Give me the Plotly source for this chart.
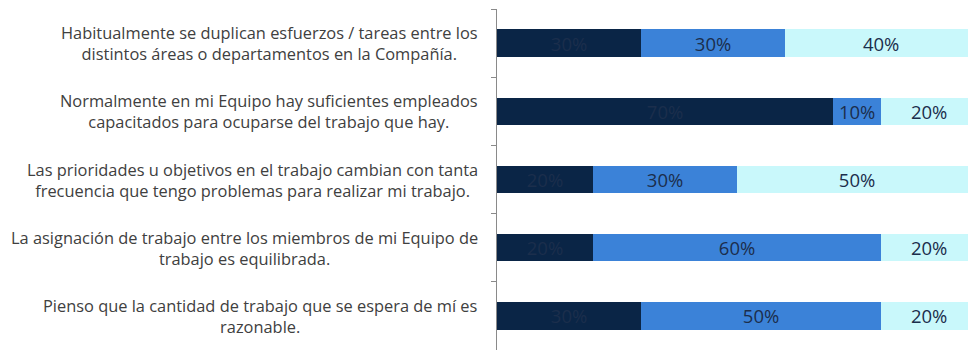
import plotly.graph_objects as go

# Survey statements (top to bottom)
statements = [
    "Habitualmente se duplican esfuerzos / tareas entre los<br>distintos áreas o departamentos en la Compañía.",
    "Normalmente en mi Equipo hay suficientes empleados<br>capacitados para ocuparse del trabajo que hay.",
    "Las prioridades u objetivos en el trabajo cambian con tanta<br>frecuencia que tengo problemas para realizar mi trabajo.",
    "La asignación de trabajo entre los miembros de mi Equipo de<br>trabajo es equilibrada.",
    "Pienso que la cantidad de trabajo que se espera de mí es<br>razonable.",
]
categories = ["q1", "q2", "q3", "q4", "q5"]

# Response shares (%) per statement
share_low = [30, 70, 20, 20, 30]
share_mid = [30, 10, 30, 60, 50]
share_high = [40, 20, 50, 20, 20]

colors = ["#0a2546", "#3b82d8", "#c9f8fb"]
text_color = "#1b2e4c"
font_family = "Open Sans, Lato, sans-serif"

fig = go.Figure()
for vals, col in zip([share_low, share_mid, share_high], colors):
    fig.add_trace(go.Bar(
        y=categories, x=vals, orientation="h",
        marker=dict(color=col, line=dict(width=0)),
        width=0.4,
        text=[f"{v}%" for v in vals],
        textposition="inside", insidetextanchor="middle", textangle=0,
        textfont=dict(family=font_family, size=18.5, color=text_color),
        constraintext="none",
        hoverinfo="skip",
    ))

for cat, label in zip(categories, statements):
    fig.add_annotation(
        xref="paper", yref="y", x=0, y=cat, xshift=-17,
        xanchor="right", yanchor="middle", align="center",
        text=label, showarrow=False,
        font=dict(family=font_family, size=16.4, color="#404040"),
    )

fig.update_layout(
    barmode="stack",
    width=968, height=351,
    margin=dict(l=497, r=0, t=9, b=1),
    paper_bgcolor="white", plot_bgcolor="white",
    showlegend=False,
    uniformtext=dict(mode=False),
    xaxis=dict(range=[0, 98.1], visible=False, showgrid=False, zeroline=False),
    yaxis=dict(
        autorange="reversed", showticklabels=False,
        tickson="boundaries", ticks="outside", ticklen=5, tickcolor="#8a8a8a",
        showline=True, linecolor="#8a8a8a", linewidth=1,
        showgrid=False, zeroline=False,
    ),
)

fig.write_html("out.html")
